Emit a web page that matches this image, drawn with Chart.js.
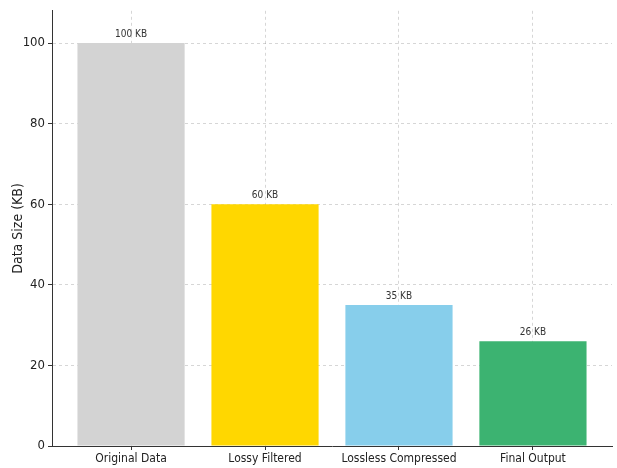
<!DOCTYPE html>
<html>
<head>
<meta charset="utf-8">
<script src="https://cdn.jsdelivr.net/npm/chart.js@4/dist/chart.umd.min.js"></script>
<style>
  html, body { margin: 0; padding: 0; background: #fff; }
  #wrap { width: 617px; height: 468px; }
</style>
</head>
<body>
<div id="wrap"><canvas id="sizeChart" width="617" height="468"></canvas></div>
<script>
var categories = ['Original Data', 'Lossy Filtered', 'Lossless Compressed', 'Final Output'];
var sizes = [100, 60, 35, 26];
var barColors = ['#d3d3d3', '#ffd700', '#87ceeb', '#3cb371'];
var yTicks = [0, 20, 40, 60, 80, 100];

var FONT = "'DejaVu Sans Condensed', 'Liberation Sans Narrow', 'DejaVu Sans', sans-serif";

// value labels above each bar
var barLabels = {
    id: 'barLabels',
    afterDatasetsDraw: function (chart) {
        var ctx = chart.ctx;
        var meta = chart.getDatasetMeta(0);
        ctx.save();
        ctx.font = '10px ' + FONT;
        ctx.fillStyle = '#333';
        ctx.textAlign = 'center';
        ctx.textBaseline = 'bottom';
        meta.data.forEach(function (bar, i) {
            ctx.fillText(sizes[i] + ' KB', bar.x, bar.y - 4);
        });
        ctx.restore();
    }
};

document.addEventListener('DOMContentLoaded', function () {
    var ctx = document.getElementById('sizeChart').getContext('2d');
    new Chart(ctx, {
        type: 'bar',
        data: {
            datasets: [{
                data: sizes.map(function (v, i) { return { x: i, y: v }; }),
                backgroundColor: barColors,
                borderWidth: 0,
                categoryPercentage: 1,
                barPercentage: 0.8
            }]
        },
        options: {
            responsive: false,
            animation: false,
            layout: { padding: { left: 10, right: 5, top: 8, bottom: 0 } },
            plugins: { legend: { display: false }, tooltip: { enabled: false } },
            scales: {
                x: {
                    type: 'linear',
                    min: -0.59,
                    max: 3.59,
                    offset: false,
                    z: 1,
                    afterBuildTicks: function (scale) {
                        scale.ticks = categories.map(function (c, i) { return { value: i }; });
                    },
                    afterFit: function (scale) { scale.height = 22; },
                    ticks: {
                        autoSkip: false,
                        maxRotation: 0,
                        padding: 2,
                        color: '#222',
                        font: { family: FONT, size: 12 },
                        callback: function (v) { return categories[v]; }
                    },
                    grid: {
                        offset: false,
                        color: 'rgba(0,0,0,0.16)',
                        tickBorderDash: [],
                        tickColor: '#333',
                        tickLength: 4
                    },
                    border: { display: true, color: '#333', width: 1, dash: [3, 3] }
                },
                y: {
                    min: 0,
                    max: 108,
                    z: 1,
                    afterBuildTicks: function (scale) {
                        scale.ticks = yTicks.map(function (v) { return { value: v }; });
                    },
                    afterFit: function (scale) { scale.width = 42; },
                    ticks: {
                        padding: 3,
                        color: '#222',
                        font: { family: FONT, size: 13 }
                    },
                    grid: {
                        color: 'rgba(0,0,0,0.16)',
                        tickBorderDash: [],
                        tickColor: '#333',
                        tickLength: 4
                    },
                    border: { display: true, color: '#333', width: 1, dash: [3, 3] },
                    title: {
                        display: true,
                        text: 'Data Size (KB)',
                        color: '#222',
                        font: { family: FONT, size: 14 },
                        padding: { top: 0, bottom: 2 }
                    }
                }
            }
        },
        plugins: [barLabels]
    });
});
</script>
</body>
</html>
